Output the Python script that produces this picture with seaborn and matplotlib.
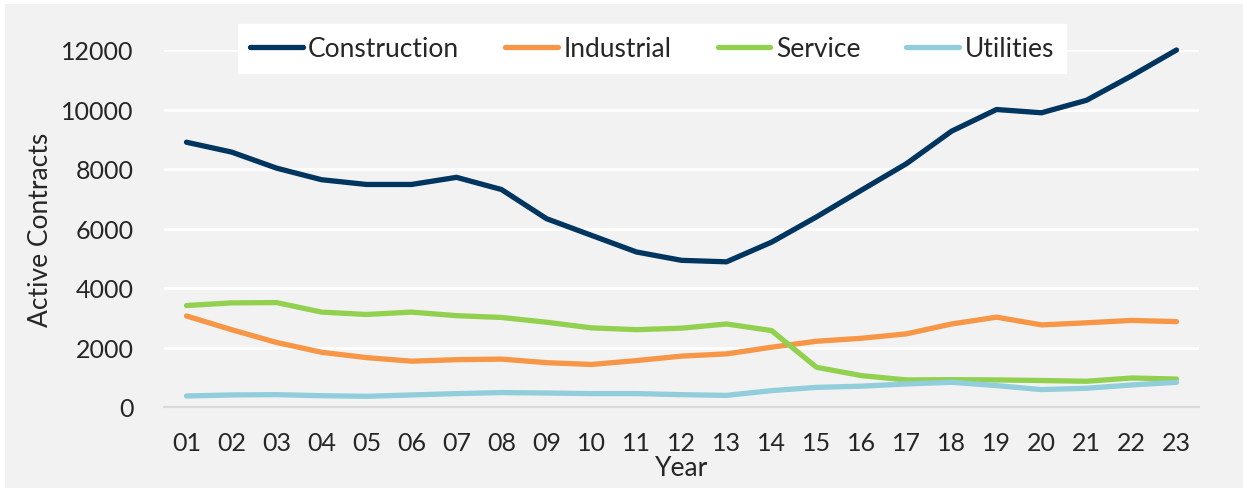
import numpy as np
import pandas as pd
import seaborn as sns
import matplotlib.pyplot as plt
from matplotlib.patches import Rectangle
from matplotlib.ticker import FixedLocator

years = ["01", "02", "03", "04", "05", "06", "07", "08", "09", "10", "11", "12",
         "13", "14", "15", "16", "17", "18", "19", "20", "21", "22", "23"]
construction = [8900, 8570, 8030, 7640, 7480, 7480, 7720, 7310, 6330, 5770, 5210, 4930,
                4880, 5540, 6390, 7290, 8180, 9270, 10000, 9890, 10310, 11130, 12000]
industrial = [3060, 2600, 2170, 1840, 1660, 1540, 1590, 1610, 1490, 1430, 1560, 1710,
              1785, 2010, 2210, 2310, 2460, 2790, 3020, 2760, 2830, 2910, 2870]
service = [3410, 3500, 3510, 3190, 3110, 3190, 3070, 3010, 2850, 2660, 2600, 2650,
           2790, 2570, 1335, 1055, 910, 920, 910, 890, 865, 975, 940]
utilities = [370, 405, 415, 380, 360, 405, 450, 485, 470, 450, 450, 415,
             390, 550, 660, 700, 775, 830, 720, 585, 630, 740, 830]

series = ["Construction", "Industrial", "Service", "Utilities"]
colors = ["#00355F", "#F79646", "#92D050", "#92CDDC"]


def main():
    df = pd.DataFrame({"Year": years, "Construction": construction, "Industrial": industrial,
                       "Service": service, "Utilities": utilities})
    long_df = df.melt(id_vars="Year", var_name="Sector", value_name="Active Contracts")

    sns.set_style("white")
    plt.rcParams["font.family"] = ["Lato", "DejaVu Sans"]

    fig = plt.figure(figsize=(12.43, 4.89), dpi=100, facecolor="white")
    fig.patches.append(Rectangle((5 / 1243, 0), 1, 1 - 5 / 489, transform=fig.transFigure,
                                 facecolor="#F2F2F2", edgecolor="none", zorder=-10))
    ax = fig.add_axes([164 / 1243, 1 - 408 / 489, (1199 - 164) / 1243, (408 - 51) / 489])
    ax.set_facecolor("#F2F2F2")

    sns.lineplot(data=long_df, x="Year", y="Active Contracts", hue="Sector",
                 hue_order=series, palette=colors, linewidth=3.8, ax=ax, sort=False)
    for line in ax.lines:
        line.set_solid_capstyle("round")
        line.set_clip_on(False)

    ax.set_xlim(-0.5, len(years) - 0.5)
    ax.set_ylim(0, 12000)
    ax.set_yticks(np.arange(0, 12001, 2000))
    ax.yaxis.grid(True, color="white", linewidth=2)
    ax.set_axisbelow(True)
    for s in ["top", "right", "left"]:
        ax.spines[s].set_visible(False)
    ax.spines["bottom"].set_color("#D9D9D9")
    ax.spines["bottom"].set_linewidth(1.5)

    ax.tick_params(axis="y", length=0, labelsize=18, pad=22)
    ax.tick_params(axis="x", which="major", length=0, labelsize=18, pad=17)
    ax.xaxis.set_minor_locator(FixedLocator(np.arange(-0.5, len(years), 1)))
    ax.tick_params(axis="x", which="minor", length=8, width=1.5, color="#D9D9D9", direction="out")

    ax.set_xlabel("Year", fontsize=19, labelpad=1)
    ax.set_ylabel("Active Contracts", fontsize=19, labelpad=6)

    leg = ax.legend(loc="center", bbox_to_anchor=(0.4715, 1.004), ncol=4, frameon=True,
                    fontsize=19, handlelength=2.0, handletextpad=0.2, columnspacing=1.75,
                    borderpad=0.45, fancybox=False)
    leg.get_frame().set_facecolor("white")
    leg.get_frame().set_edgecolor("white")
    leg.get_frame().set_alpha(1)
    for h in leg.get_lines():
        h.set_linewidth(3.8)
        h.set_solid_capstyle("round")

    fig.savefig("out.png", dpi=100, facecolor=fig.get_facecolor())


if __name__ == "__main__":
    main()
